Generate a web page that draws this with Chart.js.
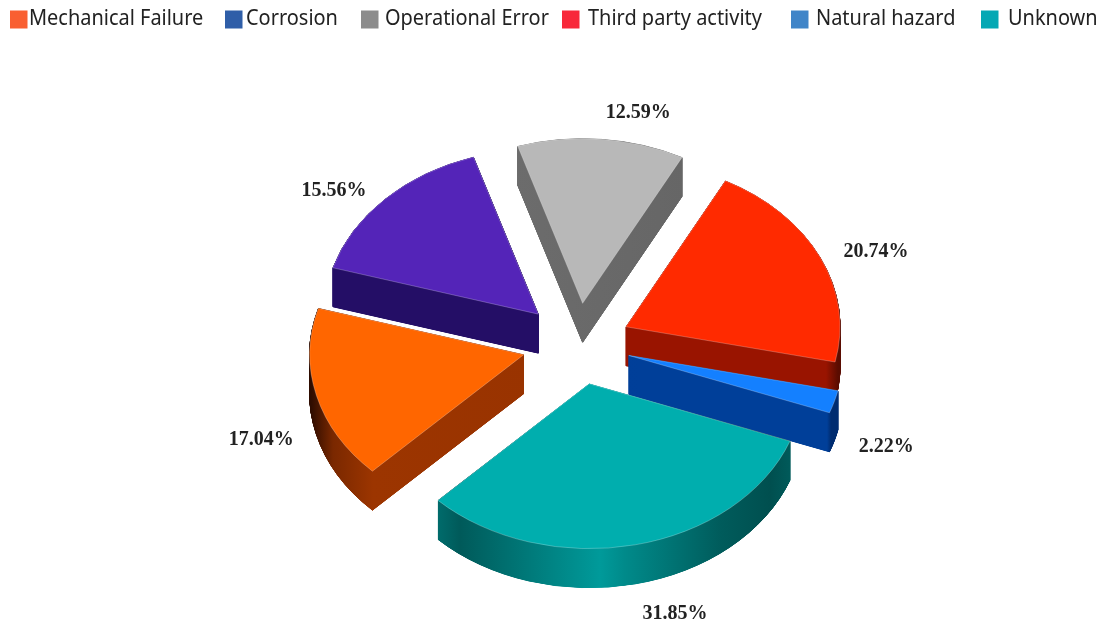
<!DOCTYPE html>
<html>
<head>
<meta charset="utf-8">
<title>Pipeline failure causes</title>
<style>
  html, body { margin: 0; padding: 0; background: #fff; }
  #wrap { width: 1100px; height: 624px; }
  canvas { filter: blur(0.5px); }
</style>
</head>
<body>
<div id="wrap"><canvas id="chart"></canvas></div>
<script src="https://cdn.jsdelivr.net/npm/chart.js@4"></script>
<script>
const categories = ['Mechanical Failure', 'Corrosion', 'Operational Error', 'Third party activity', 'Natural hazard', 'Unknown'];
const values = [17.04, 15.56, 12.59, 20.74, 2.22, 31.85];
const percentLabels = ['17.04%', '15.56%', '12.59%', '20.74%', '2.22%', '31.85%'];

const sliceColors = ['#ff6600', '#5424b8', '#b8b8b8', '#ff2a00', '#1480ff', '#00aeae'];
const legendColors = ['#f95f31', '#2f5ea8', '#8c8c8c', '#f8283a', '#4085c8', '#05a8b4'];

// side wall colours, [page x, colour]
const wallStops = [
  [[311, '#2e0c00'], [333, '#7a2800'], [373, '#9c3500'], [530, '#993300']],
  [[330, '#240e66'], [540, '#240e66']],
  [[515, '#6c6c6c'], [685, '#666666']],
  [[626, '#991400'], [826, '#991400'], [838, '#5a0c00']],
  [[628, '#003f99'], [827, '#003f99'], [831, '#002c70'], [838, '#002c70']],
  [[437, '#006c6c'], [460, '#005a5a'], [600, '#009a9a'], [625, '#008a8a'], [720, '#005c5c'], [770, '#004f4f'], [790, '#005a5a']]
];

const paintOrder = [1, 2, 3, 4, 0, 5];
const squash = 0.77;
const labelRing = 53;
const sliceExplode = [56, 55.5, 53, 53, 53, 53];
const depth = 39;

// where each label sits relative to the outer edge of its slice
const labelNudge = [[-58, 45], [-53, -9], [37, -26], [56, -5], [52, 45], [40, 69]];
const legendBoxX = [10, 225, 361, 562, 791, 981];
const legendTextX = [29, 246, 385, 588, 816, 1008];

function faceOptions(color, borderColor, borderWidth) {
  return { backgroundColor: color, borderColor: borderColor, borderWidth: borderWidth, borderAlign: 'center', borderRadius: 0, offset: 0, spacing: 0, circular: true };
}

function drawSlices(chart) {
  const ctx = chart.ctx;
  const arcs = chart.getDatasetMeta(0).data;

  paintOrder.forEach(i => {
    const arc = arcs[i];
    const saved = arc.options;
    const mid = (arc.startAngle + arc.endAngle) / 2;
    const ex = Math.cos(mid) * sliceExplode[i];
    const ey = Math.sin(mid) * sliceExplode[i];

    const place = drop => {
      ctx.save();
      ctx.translate(arc.x, arc.y + drop);
      ctx.scale(1, squash);
      ctx.translate(-arc.x + ex, -arc.y + ey);
      arc.draw(ctx);
      ctx.restore();
    };

    const stops = wallStops[i];
    const x0 = stops[0][0];
    const x1 = stops[stops.length - 1][0];
    const wall = ctx.createLinearGradient(x0 - ex, 0, x1 - ex, 0);
    stops.forEach(s => wall.addColorStop((s[0] - x0) / (x1 - x0), s[1]));

    arc.options = faceOptions(wall, wall, 1);
    for (let d = depth; d > 0; d -= 0.2) {
      place(d);
    }
    arc.options = faceOptions(sliceColors[i], 'rgba(255,255,255,0.35)', 0.8);
    place(0);
    arc.options = saved;
  });
}

const pie3d = {
  id: 'pie3d',
  beforeDatasetsDraw(chart) {
    drawSlices(chart);
    return false;
  },
  afterDraw(chart) {
    const ctx = chart.ctx;
    const arcs = chart.getDatasetMeta(0).data;
    ctx.save();
    ctx.textBaseline = 'middle';

    ctx.font = 'bold 20px "Liberation Serif"';
    ctx.fillStyle = '#222';
    ctx.textAlign = 'center';
    arcs.forEach((arc, i) => {
      const mid = (arc.startAngle + arc.endAngle) / 2;
      const r = arc.outerRadius + labelRing;
      const x = arc.x + Math.cos(mid) * r + labelNudge[i][0];
      const y = arc.y + Math.sin(mid) * r * squash + labelNudge[i][1];
      ctx.fillText(percentLabels[i], x, y);
    });

    ctx.font = '21px "Noto Sans"';
    ctx.textAlign = 'left';
    categories.forEach((name, i) => {
      ctx.fillStyle = legendColors[i];
      ctx.fillRect(legendBoxX[i], 10.5, 17.5, 18);
      ctx.fillStyle = '#222';
      ctx.save();
      ctx.translate(legendTextX[i], 19);
      ctx.scale(0.95, 1);
      ctx.fillText(name, 0, 0);
      ctx.restore();
    });
    ctx.restore();
  }
};

new Chart(document.getElementById('chart').getContext('2d'), {
  type: 'pie',
  data: {
    labels: categories,
    datasets: [{ data: values, backgroundColor: sliceColors, borderWidth: 0, hoverOffset: 0 }]
  },
  options: {
    responsive: true,
    maintainAspectRatio: false,
    animation: false,
    rotation: 225,
    radius: 214,
    layout: { padding: { left: 56, top: 64 } },
    plugins: { legend: { display: false }, tooltip: { enabled: false } }
  },
  plugins: [pie3d]
});
</script>
</body>
</html>
